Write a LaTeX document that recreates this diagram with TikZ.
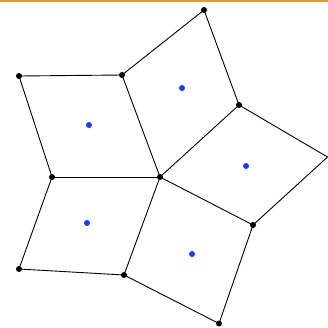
\documentclass[tikz,border=0pt]{standalone}
\definecolor{topbar}{HTML}{F39A1E}
\definecolor{site}{HTML}{1A3CFF}
\begin{document}
\begin{tikzpicture}[x=1pt,y=-1pt,
  edge/.style={draw=black,line width=0.9pt,line join=round},
  vtx/.style={circle,fill=black,inner sep=0pt,minimum size=6pt},
  sitept/.style={circle,fill=site,inner sep=0pt,minimum size=6pt}]
\useasboundingbox (0,0) rectangle (328,327);
\fill[topbar] (0,0) rectangle (328,2);
\begin{scope}
\clip (0,2) rectangle (328,327);
\coordinate (A) at (204,10);
\coordinate (B) at (122,75);
\coordinate (C) at (19,76);
\coordinate (D) at (239,105);
\coordinate (E) at (160,177);
\coordinate (F) at (52,177);
\coordinate (G) at (327.5,157);
\coordinate (H) at (253,225);
\coordinate (I) at (19,269);
\coordinate (J) at (124,275);
\coordinate (K) at (219,323.5);
\draw[edge] (C) -- (B) -- (A) -- (D) -- (G) -- (H) -- (K) -- (J) -- (I) -- (F) -- cycle;
\draw[edge] (F) -- (E);
\draw[edge] (B) -- (E);
\draw[edge] (D) -- (E);
\draw[edge] (H) -- (E);
\draw[edge] (J) -- (E);
\foreach \p in {A,B,C,D,E,F,H,I,J,K} \node[vtx] (v\p) at (\p) {};
\node[sitept] (s1) at (89,125) {};
\node[sitept] (s2) at (182,88) {};
\node[sitept] (s3) at (246,166) {};
\node[sitept] (s4) at (87,223) {};
\node[sitept] (s5) at (192,254) {};
\end{scope}
\end{tikzpicture}
\end{document}
